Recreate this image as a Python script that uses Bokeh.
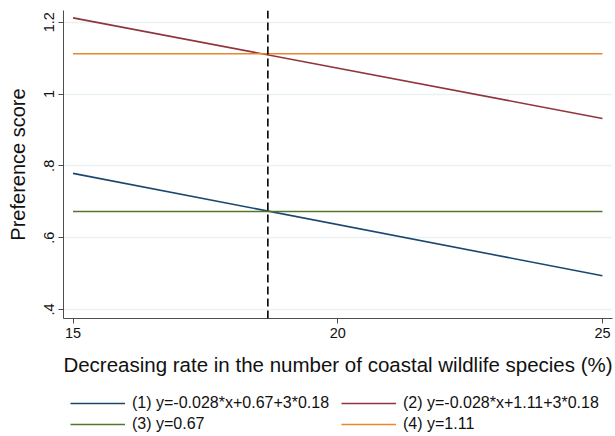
from bokeh.plotting import figure
from bokeh.layouts import column
from bokeh.models import Range1d, FixedTicker, Legend, LegendItem, Span
from bokeh.embed import file_html
from bokeh.resources import INLINE

# ---- data ----
x_vals = [15, 25]
line1 = [0.779, 0.494]   # (1) y=-0.028*x+0.67+3*0.18
line2 = [1.212, 0.932]   # (2) y=-0.028*x+1.11+3*0.18
line3 = [0.673, 0.673]   # (3) y=0.67
line4 = [1.112, 1.112]   # (4) y=1.11
vline_x = 18.68
labels = ["(1) y=-0.028*x+0.67+3*0.18", "(2) y=-0.028*x+1.11+3*0.18",
          "(3) y=0.67", "(4) y=1.11"]
colors = ["#1a476f", "#90353b", "#55752f", "#e8872e"]
x_ticks = [15, 20, 25]
y_ticks = [0.4, 0.6, 0.8, 1.0, 1.2]
y_tick_labels = {0.4: ".4", 0.6: ".6", 0.8: ".8", 1.0: "1", 1.2: "1.2"}

FONT = "Liberation Sans"
series = [line1, line2, line3, line4]

# ---------------- main chart ----------------
p = figure(output_backend="svg", toolbar_location=None,
           width=615, height=385,
           min_border_left=63, min_border_top=10, min_border_right=3, min_border_bottom=67,
           x_range=Range1d(14.82, 25.19), y_range=Range1d(0.375, 1.2325),
           background_fill_color="white", border_fill_color="white")
p.outline_line_color = None

p.xgrid.visible = False
p.ygrid.grid_line_color = "#eaf2f3"
p.ygrid.grid_line_width = 1.5
p.ygrid.ticker = FixedTicker(ticks=y_ticks)

for ax in (p.xaxis[0], p.yaxis[0]):
    ax.axis_line_color = "#4d4d4d"
    ax.major_tick_line_color = "#4d4d4d"
    ax.major_tick_out = 5
    ax.major_tick_in = 0
    ax.minor_tick_line_color = None
    ax.major_label_text_font = FONT
    ax.major_label_text_font_size = "14.5px"
    ax.major_label_text_color = "#111111"
    ax.axis_label_text_font = FONT
    ax.axis_label_text_font_style = "normal"
    ax.axis_label_text_color = "#111111"

p.xaxis.ticker = FixedTicker(ticks=x_ticks)
p.xaxis.axis_label = "Decreasing rate in the number of coastal wildlife species (%)"
p.xaxis.axis_label_text_font_size = "20.5px"
p.xaxis.major_label_standoff = 4
p.xaxis.axis_label_standoff = 12

p.yaxis.ticker = FixedTicker(ticks=y_ticks)
p.yaxis.major_label_overrides = y_tick_labels
p.yaxis.major_label_orientation = "vertical"
p.yaxis.axis_label = "Preference score"
p.yaxis.axis_label_text_font_size = "20px"
p.yaxis.major_label_standoff = 4
p.yaxis.axis_label_standoff = 13

for ys, c in zip(series, colors):
    p.line(x_vals, ys, line_color=c, line_width=1.6)

p.add_layout(Span(location=vline_x, dimension="height", line_color="black",
                  line_width=1.6, line_dash="8 4"))

# ---------------- legend strip ----------------
q = figure(output_backend="svg", toolbar_location=None,
           width=615, height=51, min_border=0,
           x_axis_location=None, y_axis_location=None,
           x_range=Range1d(0, 1), y_range=Range1d(0, 1),
           background_fill_color="white", border_fill_color="white")
q.outline_line_color = None
q.grid.visible = False
legend_renderers = [q.line(x_vals, ys, line_color=c, line_width=1.6)
                    for ys, c in zip(series, colors)]

order = [0, 2, 1, 3]
legend = Legend(items=[LegendItem(label=labels[i], renderers=[legend_renderers[i]]) for i in order],
                orientation="vertical", nrows=2,
                location=(7, 2),
                glyph_width=55, glyph_height=20, label_height=20, label_width=208,
                label_standoff=7, spacing=1, padding=0, margin=0,
                label_text_font=FONT, label_text_font_size="16px",
                label_text_color="#111111",
                border_line_color=None, background_fill_alpha=0)
q.add_layout(legend, "center")

open("out.html", "w").write(file_html(column(p, q, spacing=0), INLINE))
